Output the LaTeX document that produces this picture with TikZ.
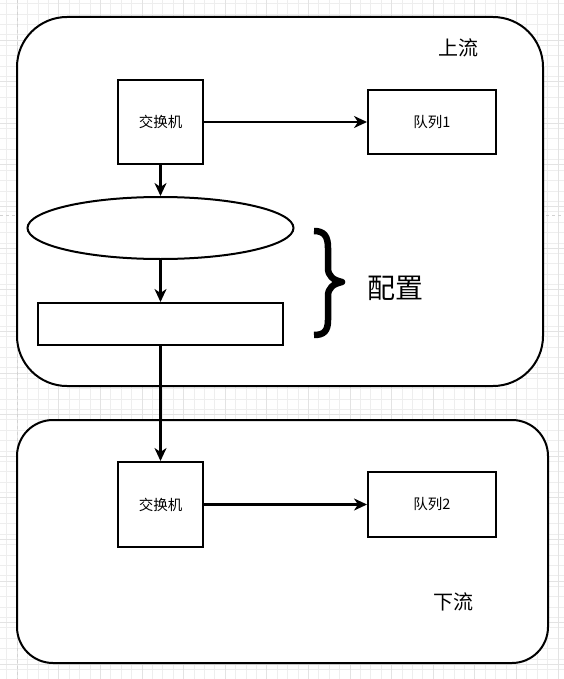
\documentclass[tikz,border=0pt]{standalone}
\usepackage{fontspec}
\setmainfont{Noto Sans CJK SC}
\usetikzlibrary{shapes.geometric,arrows.meta}

\begin{document}
\begin{tikzpicture}[x=1pt,y=-1pt,
    grille/.style={gray!13,line width=0.6pt},
    grillemaj/.style={gray!22,line width=0.6pt},
    zone/.style={draw,line width=2pt,fill=white,inner sep=0pt},
    boite/.style={draw,line width=2pt,fill=white,inner sep=0pt,font=\fontsize{14.5}{16}\selectfont},
    titre/.style={font=\fontsize{20}{22}\selectfont},
    fleche/.style={line width=2.2pt,-{Stealth[length=13pt,width=12pt,inset=4pt]}}]
            \useasboundingbox (0,0) rectangle (564,679);
            \fill[white] (0,0) rectangle (564,679);
            \foreach \i in {0,...,54} \draw[grille] ({6.6+10.4*\i},0) -- ({6.6+10.4*\i},679);
            \foreach \j in {0,...,65} \draw[grille] (0,{3.6+10.4*\j}) -- (564,{3.6+10.4*\j});
            \foreach \i in {0,...,13} \draw[grillemaj] ({17+41.6*\i},0) -- ({17+41.6*\i},679);
            \foreach \j in {0,...,15} \draw[grillemaj] (0,{664-41.6*\j}) -- (564,{664-41.6*\j});
            \draw[gray!35,dashed,line width=0.8pt] (17,0) -- (17,679);
            \draw[gray!35,dashed,line width=0.8pt] (0,215) -- (564,215);
            \node[zone,rounded corners=50pt,minimum width=526pt,minimum height=369pt] (amont) at (280,201.5) {};
            \node[zone,rounded corners=36pt,minimum width=531pt,minimum height=243pt] (aval) at (282.5,541.5) {};
            \node[titre] (amonttxt) at (458,48) {上流};
            \node[titre] (avaltxt) at (453,602) {下流};
            \node[boite,minimum width=85pt,minimum height=84pt] (switch1) at (160.5,122) {交换机};
            \node[boite,minimum width=128pt,minimum height=64pt] (file1) at (432,122) {队列1};
            \node[boite,ellipse,minimum width=266pt,minimum height=62pt] (ovale) at (160.5,228) {};
            \node[boite,minimum width=245pt,minimum height=42pt] (regle) at (160.5,324) {};
            \node[boite,minimum width=85pt,minimum height=85pt] (switch2) at (160.5,504.5) {交换机};
            \node[boite,minimum width=128pt,minimum height=65pt] (file2) at (432,504.5) {队列2};
            \draw[fleche] (switch1) -- (file1);
            \draw[fleche] (switch1) -- (ovale);
            \draw[fleche] (ovale) -- (regle);
            \draw[fleche] (regle) -- (switch2);
            \draw[fleche] (switch2) -- (file2);
            \draw[line width=6.5pt,line join=round] (314,231) .. controls (324,231) and (328,236) .. (328,248) -- (328,268)
              .. controls (328,276) and (333,280) .. (342,282) .. controls (333,284) and (328,288) .. (328,296)
              -- (328,320) .. controls (328,331) and (324,335) .. (314,335);
            \node[font=\fontsize{28}{30}\selectfont] (config) at (395,288) {配置};
\end{tikzpicture}
\end{document}
